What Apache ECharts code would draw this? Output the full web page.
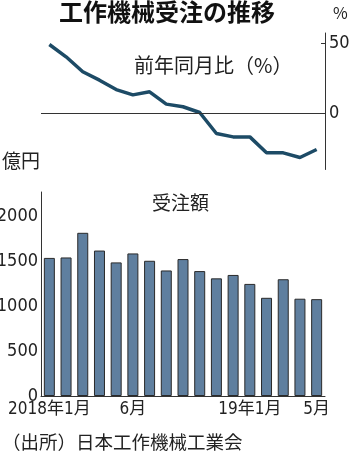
<!DOCTYPE html>
<html><head><meta charset="utf-8">
<script src="https://cdn.jsdelivr.net/npm/echarts@6/dist/echarts.min.js"></script>
<style>html,body{margin:0;padding:0;background:#fff}#c{width:350px;height:455px}</style>
</head><body><div id="c"></div>
<script>
const categories = ['2018年1月','2月','3月','4月','5月','6月','7月','8月','9月','10月','11月','12月','19年1月','2月','3月','4月','5月'];
const orders = [1540, 1545, 1820, 1622, 1490, 1590, 1508, 1400, 1527, 1393, 1312, 1350, 1250, 1095, 1302, 1085, 1080];
const yoy = [49.3, 40.5, 29.8, 23.8, 17.1, 13.3, 15.5, 6.7, 4.8, 0.7, -14.3, -16.7, -16.7, -28.1, -28.1, -31.4, -25.7];
const xTickIdx = [0, 5, 12, 16];
const xTickText = ['2018年1月', '6月', '19年1月', '5月'];
const barTicks = [0, 500, 1000, 1500, 2000];
const yoyTicks = [0, 50];

const CJK = '"Noto Sans CJK JP", "Noto Sans", sans-serif';
const NUM = '"Liberation Sans Narrow", "DejaVu Sans Condensed", "Noto Sans CJK JP", sans-serif';
const TXT = '#222';
const chart = echarts.init(document.getElementById('c'), null, {renderer: 'canvas'});
chart.setOption({
  animation: false,
  backgroundColor: '#fff',
  graphic: [
    {type: 'text', left: 59, top: 0, style: {text: '工作機械受注の推移', font: 'bold 24px ' + CJK, fill: '#111'}},
    {type: 'text', left: 333, top: 5, style: {text: '%', font: '16px ' + CJK, fill: TXT}},
    {type: 'text', left: 134, top: 55, style: {text: '前年同月比（%）', font: '20px ' + CJK, fill: TXT}},
    {type: 'text', left: 2, top: 151, style: {text: '億円', font: '19px ' + CJK, fill: TXT}},
    {type: 'text', left: 152, top: 193, style: {text: '受注額', font: '19px ' + CJK, fill: TXT}},
    {type: 'text', left: 2, top: 433, style: {text: '（出所）日本工作機械工業会', font: '18.5px ' + CJK, fill: TXT}}
  ],
  grid: [
    {left: 41, right: 25, top: 33, height: 136.5, outerBoundsMode: 'none', containLabel: false},
    {left: 41, right: 25, top: 192, bottom: 59, outerBoundsMode: 'none', containLabel: false}
  ],
  xAxis: [
    {gridIndex: 0, type: 'category', data: categories, show: false},
    {gridIndex: 1, type: 'category', data: categories,
     axisLine: {lineStyle: {color: '#333', width: 1}},
     axisTick: {show: false},
     axisLabel: {
       interval: 0, margin: 5, color: TXT, fontSize: 17, fontFamily: NUM,
       formatter: (v, i) => { const k = xTickIdx.indexOf(i); return k >= 0 ? xTickText[k] : ''; }
     }}
  ],
  yAxis: [
    {gridIndex: 0, type: 'value', position: 'right', min: -40, max: 57.5,
     axisLine: {show: true, lineStyle: {color: '#333', width: 1}},
     axisTick: {show: true, inside: true, length: 4, customValues: [50], lineStyle: {color: '#333'}},
     axisLabel: {customValues: yoyTicks, margin: 4, color: TXT, fontSize: 18, fontFamily: NUM, formatter: v => String(v)},
     splitLine: {show: false}},
    {gridIndex: 1, type: 'value', min: 0, max: 2275,
     axisLine: {show: true, lineStyle: {color: '#333', width: 1}},
     axisTick: {show: false},
     axisLabel: {customValues: barTicks, margin: 3, color: TXT, fontSize: 18, fontFamily: NUM, formatter: v => String(v)},
     splitLine: {show: false}}
  ],
  series: [
    {type: 'line', xAxisIndex: 0, yAxisIndex: 0, data: yoy, symbol: 'none',
     lineStyle: {color: '#1d4b66', width: 3.5},
     markLine: {silent: true, symbol: 'none', label: {show: false},
       lineStyle: {color: '#333', width: 1, type: 'solid'}, data: [{yAxis: 0}]}},
    {type: 'bar', xAxisIndex: 1, yAxisIndex: 1, data: orders, barWidth: 11,
     itemStyle: {color: '#5f7f9f', borderColor: '#2a2a2a', borderWidth: 1}}
  ]
});
</script></body></html>
